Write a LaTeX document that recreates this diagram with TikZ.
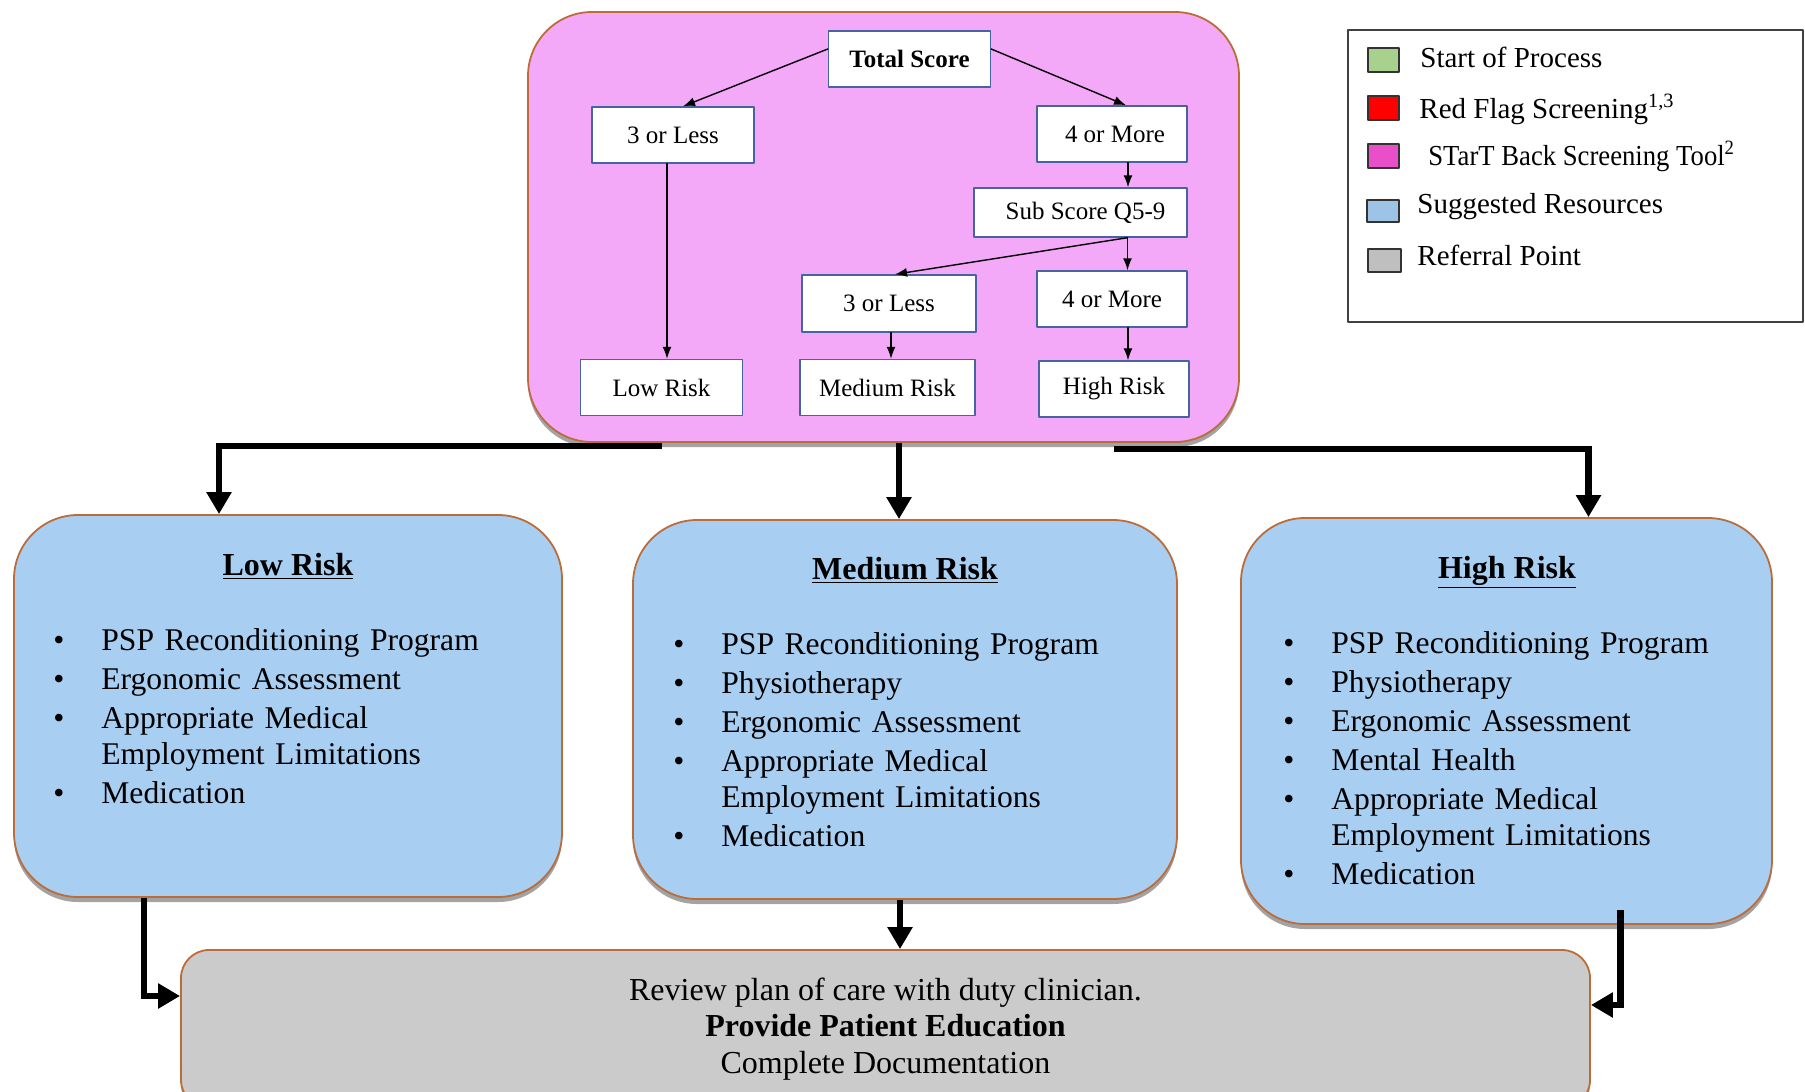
\documentclass[tikz,border=0pt]{standalone}
\usepackage{fontspec}
\setmainfont{Liberation Serif}
\usepackage{enumitem}
\usetikzlibrary{arrows.meta,shadows}
\definecolor{stbpink}{RGB}{244,168,248}
\definecolor{resblue}{RGB}{168,206,242}
\definecolor{refgray}{RGB}{203,203,203}
\definecolor{rimbrown}{RGB}{186,108,58}
\definecolor{boxline}{RGB}{70,100,160}
\definecolor{keygreen}{RGB}{169,209,142}
\definecolor{keyred}{RGB}{255,0,0}
\definecolor{keypink}{RGB}{233,79,201}
\definecolor{keyblue}{RGB}{157,195,230}
\definecolor{keygray}{RGB}{191,191,191}
\setlist[itemize]{label=\textbullet, leftmargin=24pt, labelsep=18.5pt, itemsep=1.8pt, parsep=0pt, topsep=0pt, partopsep=0pt}
\tikzset{
  panel/.style={rounded corners=32pt, draw=rimbrown, line width=0.9pt, inner sep=0pt,
    drop shadow={shadow xshift=0pt, shadow yshift=-2.5pt, fill=black!60, opacity=0.6}},
  scorebox/.style={draw=boxline, line width=0.7pt, fill=white, inner sep=0pt, minimum height=28pt,
    font=\fontsize{12.5}{14}\selectfont},
  thinarrow/.style={-{Latex[length=6pt,width=4.5pt]}, line width=0.7pt},
  bigarrow/.style={-{Triangle[length=11pt,width=12pt]}, line width=3.2pt, line cap=butt, line join=miter},
  keybox/.style={draw=black!80, line width=1pt, minimum width=15.5pt, minimum height=12pt, inner sep=0pt},
  keytext/.style={anchor=base west, inner sep=0pt, font=\fontsize{14.5}{16}\selectfont},
  headtext/.style={anchor=base, inner sep=0pt, font=\fontsize{16}{18}\selectfont\bfseries},
  listtext/.style={anchor=north west, inner sep=0pt, text width=250pt, font=\fontsize{15.8}{17.8}\selectfont}
}
\begin{document}
\begin{tikzpicture}[line cap=round,line join=round,x=0.5pt,y=-0.5pt]
\useasboundingbox (0,0) rectangle (1805,1092);
\clip (0,0) rectangle (1805,1092);

\node[panel, fill=stbpink, minimum width=355.5pt, minimum height=215pt] (stb) at (883.5,227) {};
\node[panel, fill=resblue, minimum width=274pt, minimum height=191pt] (lowBox) at (288,706) {};
\node[panel, fill=resblue, minimum width=272pt, minimum height=189.5pt] (medBox) at (905,709.5) {};
\node[panel, fill=resblue, minimum width=265.5pt, minimum height=203pt] (highBox) at (1506.5,721) {};
\node[panel, rounded corners=14pt, fill=refgray, minimum width=704.5pt, minimum height=79pt,
  align=center, font=\fontsize{16}{18.2}\selectfont] (review) at (885.5,1029)
  {Review plan of care with duty clinician.\\ \textbf{Provide Patient Education}\\ Complete Documentation};

\node[scorebox, minimum width=81pt, font=\fontsize{12.5}{14}\selectfont\bfseries] (total) at (909.5,59) {Total Score};
\node[scorebox, minimum width=81pt] (lessA) at (673,135) {3 or Less};
\node[scorebox, minimum width=75pt] (moreA) at (1112,134) {\hspace*{3pt}4 or More};
\node[scorebox, minimum width=106.5pt, minimum height=24.5pt] (sub) at (1080.5,212.5) {\hspace*{5pt}Sub Score Q5-9};
\node[scorebox, minimum width=87pt, minimum height=28.5pt] (lessB) at (889,303.5) {3 or Less};
\node[scorebox, minimum width=75pt] (moreB) at (1112,299) {4 or More};
\node[scorebox, minimum width=81pt] (lowRisk) at (661.5,387.5) {Low Risk};
\node[scorebox, minimum width=87.5pt] (medRisk) at (887.5,387.5) {Medium Risk};
\node[scorebox, minimum width=75pt] (highRisk) at (1114,389) {High Risk};

\draw[thinarrow] ([yshift=5pt]total.west) -- ([xshift=5pt]lessA.north);
\draw[thinarrow] ([yshift=5pt]total.east) -- ([xshift=7pt]moreA.north);
\draw[thinarrow] ([xshift=-3pt]lessA.south) -- ([xshift=-3pt]lessA.south |- lowRisk.north);
\draw[thinarrow] ([xshift=8pt]moreA.south) -- ([xshift=8pt]moreA.south |- sub.north);
\draw[thinarrow] ([xshift=23.5pt]sub.south) -- ([xshift=3pt]lessB.north);
\draw[thinarrow] ([xshift=23.5pt]sub.south) -- ([xshift=23.5pt]sub.south |- moreB.north);
\draw[thinarrow] ([xshift=1pt]lessB.south) -- ([xshift=1pt]lessB.south |- medRisk.north);
\draw[thinarrow] ([xshift=8pt]moreB.south) -- ([xshift=8pt]moreB.south |- highRisk.north);

\draw[bigarrow] ([yshift=-1.5pt]stb.south -| lowRisk) -| ([xshift=-34.5pt]lowBox.north);
\draw[bigarrow] ([xshift=-3pt]medBox.north |- stb.south) -- ([xshift=-3pt]medBox.north);
\draw[bigarrow] ([yshift=-3pt]stb.south -| highRisk) -| ([xshift=41pt]highBox.north);
\draw[bigarrow] ([xshift=-72pt]lowBox.south) |- ([yshift=16.5pt]review.west);
\draw[bigarrow] ([xshift=-2.5pt]medBox.south) -- ([xshift=-2.5pt]medBox.south |- review.north);
\draw[bigarrow] ([xshift=57pt,yshift=7.5pt]highBox.south) |- ([yshift=12pt]review.east);

\node[headtext] (lowHead) at (288,575) {\underline{Low Risk}};
\node[headtext] (medHead) at (905,579) {\underline{Medium Risk}};
\node[headtext] (highHead) at (1507,578) {\underline{High Risk}};

\node[listtext] (lowList) at (53,614) {\begin{itemize}
  \item PSP Reconditioning Program
  \item Ergonomic Assessment
  \item Appropriate Medical\\ Employment Limitations
  \item Medication
\end{itemize}};
\node[listtext] (medList) at (673,618) {\begin{itemize}
  \item PSP Reconditioning Program
  \item Physiotherapy
  \item Ergonomic Assessment
  \item Appropriate Medical\\ Employment Limitations
  \item Medication
\end{itemize}};
\node[listtext] (highList) at (1283,617) {\begin{itemize}
  \item PSP Reconditioning Program
  \item Physiotherapy
  \item Ergonomic Assessment
  \item Mental Health
  \item Appropriate Medical\\ Employment Limitations
  \item Medication
\end{itemize}};

\node[draw=black!75, line width=1.1pt, minimum width=227.5pt, minimum height=146pt, inner sep=0pt] (legend) at (1575.5,176) {};
\node[keybox, fill=keygreen] (kStart) at (1383.5,60) {};
\node[keybox, fill=keyred] (kRed) at (1383.5,108) {};
\node[keybox, fill=keypink] (kStb) at (1383.5,155.5) {};
\node[keybox, fill=keyblue, minimum width=16pt, minimum height=11pt] (kRes) at (1383,211) {};
\node[keybox, fill=keygray, minimum width=16.5pt, minimum height=11.5pt] (kRef) at (1384.5,260.5) {};
\node[keytext] (tStart) at (1420,67) {Start of Process};
\node[keytext] (tRed) at (1419,118) {Red Flag Screening\textsuperscript{1,3}};
\node[keytext] (tStb) at (1428,165) {\scalebox{0.92}[1]{STarT Back Screening Tool\textsuperscript{2}}};
\node[keytext] (tRes) at (1417,213) {Suggested Resources};
\node[keytext] (tRef) at (1417,265) {Referral Point};
\end{tikzpicture}
\end{document}
